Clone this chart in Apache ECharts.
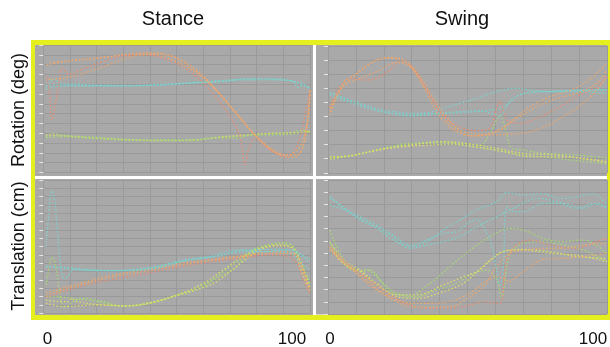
<!DOCTYPE html>
<html>
<head>
<meta charset="utf-8">
<script src="https://cdn.jsdelivr.net/npm/echarts@6/dist/echarts.min.js"></script>
<style>
html, body { margin: 0; padding: 0; background: #fff; }
#main { width: 610px; height: 347px; }
</style>
</head>
<body>
<div id="main"></div>
<script>
// column / row titles and x tick labels
var colTitles = ['Stance', 'Swing'];
var rowTitles = ['Rotation (deg)', 'Translation (cm)'];
var xTickLabels = ['0', '100', '0', '100'];

// ---- Stance / Rotation  ([% of phase, value])
var stRotOrange1 = [[1.25,10.96],[10,11.40],[20,11.64],[30,11.98],[37.5,12.08],[45,11.81],[52.5,10.96],[60,9.60],[67.5,7.56],[75,5.18],[82.5,2.97],[88.75,1.78],[93.75,1.54],[96.9,2.29],[98.75,4.67],[100,8.41]];
var stRotOrange2 = [[1,9.84],[2.25,8.41],[3.25,5.34],[4.4,6.71],[6,9.43],[7.1,10.62],[9.75,10.01],[12.5,10.28],[20,11.06],[30,11.88],[38.75,11.98],[47.5,11.40],[55,10.28],[62.5,8.41],[70,5.69],[73.75,3.65],[75.6,0.76],[77.25,2.63],[79.4,3.48],[85,2.29],[91.25,1.54],[95,2.63],[98.1,5.69],[100,8.41]];
var stRotOrange3 = [[1.9,9.50],[7.5,9.60],[15,10.11],[22.5,10.79],[30,11.54],[36.25,11.98],[42.5,12.08],[50,11.64],[57.5,10.45],[65,8.41],[72.5,6.03],[80,3.65],[86.25,2.29],[91.25,1.78],[96.25,2.63],[99.4,5.69],[100,8.41]];
var stRotOrange4 = [[2.5,11.2],[13.75,11.47],[26.25,11.88],[38.75,12.21],[47.5,11.98],[55,10.79],[62.5,9.09],[70,6.71],[77.5,4.33],[83.75,2.63],[90,1.78],[95,1.78],[98.1,3.31],[100,8.07]];
var stRotCyan1 = [[1,8.75],[2.5,9.26],[4,9.50],[5.6,9.26],[7.5,8.92],[20,8.85],[32.5,8.82],[45,8.92],[57.5,9.16],[65,9.22],[75,9.50],[82.5,9.53],[90,9.43],[93.75,9.26],[95.6,8.65],[97.5,8.92],[100,8.48]];
var stRotCyan2 = [[1,8.58],[7.5,8.82],[20,8.82],[32.5,8.85],[45,8.95],[55,9.09],[65,9.29],[75,9.43],[85,9.43],[92.5,9.36],[97.5,9.02],[100,8.48]];
var stRotCyan3 = [[1,8.92],[7.5,9.02],[20,8.92],[32.5,8.88],[45,8.99],[57.5,9.22],[70,9.43],[77.5,9.56],[90,9.50],[95,9.16],[100,8.58]];
var stRotGreen1 = [[1,3.65],[3.75,3.99],[6.25,3.82],[20,3.58],[32.5,3.37],[45,3.31],[57.5,3.37],[65,3.58],[75,3.71],[82.5,3.92],[92.5,4.05],[96.25,4.26],[100,4.05]];
var stRotYellow1 = [[1,3.82],[7.5,3.71],[20,3.48],[32.5,3.31],[45,3.24],[57.5,3.31],[67.5,3.65],[76.25,3.82],[85,3.99],[95,4.05],[100,4.16]];
var stRotGreen2 = [[1,3.54],[6.25,3.65],[20,3.44],[38.75,3.24],[55,3.24],[65,3.51],[72.5,3.48],[77.5,3.82],[85,3.82],[95,3.99],[97.5,4.33],[100,4.09]];

// ---- Swing / Rotation
var swRotOrange1 = [[0.7,4.34],[4.3,5.87],[9.1,6.82],[15.1,7.76],[21.0,8.12],[25.8,8.05],[30.6,7.29],[35.4,5.87],[40.1,4.34],[44.9,3.22],[50.9,2.61],[56.9,2.75],[61.6,2.99],[66.4,3.74],[72.4,4.69],[79.6,5.40],[87.9,5.92],[95.1,6.82],[100,7.76]];
var swRotOrange2 = [[0.7,4.69],[4.3,6.11],[7.9,6.70],[12.7,6.58],[17.4,6.70],[22.2,7.29],[25.8,7.88],[29.4,7.65],[34.2,6.35],[38.9,4.69],[43.7,3.63],[48.5,3.15],[53.3,2.99],[58.1,3.22],[61.6,5.05],[64.6,3.63],[68.8,3.51],[74.8,3.86],[82.0,4.57],[89.1,5.40],[96.3,6.11],[100,6.94]];
var swRotOrange3 = [[0.7,4.10],[5.5,6.35],[11.5,7.17],[17.4,8.00],[23.4,8.19],[28.2,7.88],[33.0,6.82],[37.8,5.28],[42.5,3.98],[47.3,3.04],[53.3,2.75],[59.3,2.68],[65.2,2.75],[71.2,2.85],[77.2,3.22],[84.3,3.98],[91.5,4.93],[96.3,5.87],[100,6.82]];
var swRotOrange4 = [[0.7,4.57],[5.5,6.11],[11.5,6.70],[17.4,7.17],[24.6,7.81],[29.4,7.53],[34.2,6.11],[38.9,4.34],[43.7,3.22],[48.5,2.75],[53.3,2.61],[58.1,2.75],[62.8,3.22],[67.6,3.86],[74.8,4.69],[82.0,5.28],[89.1,5.64],[96.3,6.35],[100,7.29]];
var swRotCyan1 = [[0.7,5.64],[5.5,5.28],[11.5,4.93],[17.4,4.57],[23.4,4.34],[29.4,4.22],[35.4,4.26],[41.3,4.57],[47.3,4.93],[53.3,5.28],[60.5,5.76],[67.6,5.99],[72.4,5.87],[79.6,5.76],[89.1,5.83],[100,5.87]];
var swRotCyan2 = [[0.7,5.52],[5.5,5.16],[11.5,4.74],[17.4,4.41],[23.4,4.17],[29.4,4.03],[35.4,4.10],[41.3,4.22],[47.3,4.26],[53.3,4.34],[58.1,4.45],[62.8,4.69],[66.4,5.28],[70.0,5.64],[77.2,5.76],[89.1,5.87],[100,5.92]];
var swRotCyan3 = [[0.7,5.68],[5.5,5.35],[11.5,4.88],[17.4,4.45],[23.4,4.22],[29.4,4.10],[35.4,4.17],[41.3,4.26],[47.3,4.34],[53.3,4.41],[59.3,4.17],[61.6,3.98],[64.0,4.69],[67.6,5.40],[72.4,5.68],[79.6,5.76],[89.1,5.76],[100,5.64]];
var swRotGreen1 = [[0.7,1.14],[6.7,1.19],[12.7,1.38],[19.8,1.74],[27.0,2.04],[34.2,2.14],[41.3,2.21],[48.5,2.09],[54.5,1.97],[58.1,2.80],[61.6,4.03],[64.0,2.80],[65.8,1.74],[70.0,1.62],[77.2,1.38],[89.1,1.26],[100,1.03]];
var swRotGreen2 = [[0.7,1.03],[6.7,1.14],[15.1,1.50],[23.4,1.85],[31.8,2.04],[41.3,2.14],[50.9,1.90],[60.5,1.62],[70.0,1.26],[79.6,1.10],[89.1,0.86],[100,0.62]];
var swRotGreen3 = [[0.7,1.14],[7.9,1.19],[17.4,1.62],[27.0,1.85],[35.4,1.95],[43.7,2.04],[53.3,1.81],[62.8,1.50],[72.4,1.14],[82.0,1.14],[91.5,1.03],[100,0.79]];
var swRotYellow1 = [[0.7,0.96],[9.1,1.26],[19.8,1.66],[29.4,1.97],[41.3,2.21],[50.9,2.04],[60.5,1.74],[70.0,1.38],[82.0,1.26],[93.9,0.91],[100,0.72]];

// ---- Stance / Translation
var stTrCyan1 = [[1,8.0],[2,11.6],[3.1,14.72],[4.1,14.0],[5.25,10.0],[6.5,5.6],[7.75,4.2],[9.4,4.48],[11.25,5.28],[15,5.2],[26.25,5.12],[38.75,5.4],[51.25,6.2],[61.25,6.72],[72.5,7.6],[82.5,7.4],[90,7.6],[93.75,7.6],[96.9,7.0],[100,6.48]];
var stTrCyan2 = [[1,5.6],[7.5,5.52],[20,5.2],[32.5,5.12],[45,5.6],[55,6.48],[65,6.88],[75,7.6],[85,7.68],[92.5,7.6],[97.5,6.72],[100,6.0]];
var stTrCyan3 = [[1,5.68],[7.5,5.4],[20,5.12],[32.5,5.2],[42.5,5.6],[52.5,6.4],[62.5,6.72],[72.5,7.28],[82.5,7.4],[92.5,7.28],[96.9,6.0],[100,5.2]];
var stTrGreen1 = [[1,3.4],[2.25,5.6],[3.25,6.72],[4.4,6.0],[5.6,3.6],[6.9,1.2],[8.5,0.8],[11.25,1.4],[15,1.8],[22.5,1.4],[30,0.88],[38.75,1.2],[48.75,2.0],[57.5,2.8],[65,4.2],[72.5,5.6],[77.5,7.4],[82.5,8.08],[88.75,8.32],[92.5,8.2],[96.25,6.4],[100,3.6]];
var stTrGreen2 = [[1,2.0],[7.5,1.92],[20,1.4],[30,0.88],[40,1.2],[50,2.2],[60,3.4],[67.5,5.0],[75,6.6],[82.5,8.0],[90,8.48],[93.75,8.0],[97.5,5.2],[100,3.4]];
var stTrYellow1 = [[1,1.2],[7.5,0.8],[20,1.0],[30,0.88],[40,1.28],[51.25,2.32],[60,3.6],[67.5,5.2],[75,6.88],[82.5,7.92],[90,8.2],[93.75,7.6],[97.5,4.4],[100,2.8]];
var stTrYellow2 = [[1,1.6],[6.25,1.4],[9.4,1.4],[10.6,1.8],[12.5,1.4],[22.5,1.0],[32.5,0.88],[42.5,1.4],[52.5,2.4],[61.25,3.2],[65,3.8],[72.5,5.6],[80,7.4],[87.5,8.08],[93.75,7.8],[97.5,5.2],[100,3.2]];
var stTrOrange1 = [[1,2.2],[13.75,3.4],[26.25,4.4],[38.75,5.08],[51.25,5.8],[63.75,6.4],[76.25,6.88],[85,7.2],[91.25,7.2],[95,6.8],[97.5,5.2],[100,2.4]];
var stTrOrange2 = [[1,2.48],[13.75,3.6],[26.25,4.6],[38.75,5.28],[51.25,6.0],[63.75,6.48],[76.25,7.0],[85,7.4],[91.25,7.4],[95,6.88],[98.1,4.4],[100,2.8]];
var stTrOrange3 = [[1,1.92],[13.75,3.2],[26.25,4.08],[38.75,4.8],[51.25,5.6],[63.75,6.2],[76.25,6.72],[85,7.0],[91.25,6.88],[95,6.0],[97.5,4.0],[100,2.32]];

// ---- Swing / Translation
var swTrCyan1 = [[0.7,9.63],[5.5,8.67],[11.5,7.72],[17.4,7.03],[23.4,6.07],[29.4,5.53],[35.4,5.94],[41.3,6.89],[47.3,7.72],[53.3,8.54],[60.5,9.22],[64.0,9.96],[70.0,9.77],[77.2,9.85],[83.2,9.49],[89.1,9.63],[95.1,9.85],[100,8.95]];
var swTrCyan2 = [[0.7,8.95],[5.5,8.59],[11.5,7.99],[17.4,7.31],[23.4,6.48],[29.4,5.66],[35.4,6.07],[41.3,6.62],[46.1,6.76],[50.9,7.58],[53.3,7.77],[56.9,6.62],[59.3,5.12],[61.6,2.38],[62.8,3.61],[64.0,8.81],[66.4,8.40],[70.0,8.40],[77.2,9.08],[84.3,9.08],[91.5,8.67],[96.3,9.08],[100,8.81]];
var swTrCyan3 = [[0.7,9.49],[5.5,8.81],[11.5,7.85],[17.4,7.17],[23.4,6.35],[29.4,5.39],[35.4,5.66],[41.3,5.94],[47.3,6.35],[53.3,7.17],[60.5,7.99],[67.6,8.81],[74.8,9.49],[82.0,9.22],[89.1,8.67],[95.1,9.08],[100,8.67]];
var swTrGreen1 = [[0.7,6.89],[3.1,5.53],[6.7,4.16],[10.3,3.61],[13.9,3.61],[17.4,3.06],[23.4,1.70],[29.4,1.56],[36.6,2.52],[43.7,3.89],[50.9,5.25],[58.1,6.35],[65.2,7.03],[70.0,6.89],[77.2,6.21],[84.3,5.94],[91.5,6.07],[100,4.98]];
var swTrGreen2 = [[0.7,5.80],[3.1,4.98],[6.7,3.89],[11.5,3.47],[15.1,3.61],[19.8,2.52],[25.8,1.56],[31.8,1.42],[38.9,1.97],[46.1,2.52],[52.1,3.34],[56.9,3.61],[60.5,2.79],[62.2,1.42],[65.2,4.98],[70.0,5.80],[77.2,5.94],[84.3,5.66],[91.5,5.25],[100,4.30]];
var swTrGreen3 = [[0.7,5.94],[5.5,4.43],[11.5,3.61],[17.4,2.52],[24.6,1.42],[31.8,1.29],[41.3,1.83],[48.5,2.52],[55.7,3.89],[62.8,5.12],[70.0,5.31],[79.6,5.12],[89.1,4.71],[100,4.57]];
var swTrYellow1 = [[0.7,5.53],[5.5,4.16],[11.5,3.47],[17.4,2.38],[24.6,1.56],[31.8,1.56],[41.3,2.38],[48.5,3.06],[53.3,3.47],[58.1,4.43],[62.8,5.12],[70.0,5.25],[79.6,4.98],[89.1,4.84],[100,4.30]];
var swTrOrange1 = [[0.7,5.53],[5.5,4.43],[11.5,3.34],[17.4,2.38],[23.4,1.42],[29.4,0.74],[35.4,0.47],[43.7,0.47],[50.9,0.74],[55.7,1.01],[60.5,0.88],[62.2,1.01],[64.0,4.43],[67.6,5.66],[72.4,6.07],[79.6,5.66],[89.1,5.39],[96.3,5.94],[100,6.21]];
var swTrOrange2 = [[0.7,5.39],[5.5,4.30],[11.5,3.06],[17.4,1.97],[23.4,1.15],[29.4,0.60],[35.4,0.55],[43.7,0.60],[50.9,1.42],[55.7,2.24],[60.5,3.89],[65.2,4.98],[71.2,5.25],[77.2,5.39],[84.3,5.39],[91.5,5.66],[100,5.80]];
var swTrOrange3 = [[0.7,5.25],[5.5,4.16],[11.5,3.20],[17.4,2.11],[23.4,1.29],[29.4,0.88],[36.6,0.88],[43.7,1.01],[50.9,1.70],[55.7,2.52],[60.5,3.06],[62.8,2.93],[65.2,2.65],[67.6,3.06],[72.4,3.89],[77.2,4.49],[84.3,4.57],[91.5,4.71],[100,4.98]];

var ORANGE = '#f3a767', SALMON = '#ef8a6f', CYAN = '#76d6d2', GREEN = '#a9dd6e', YELLOW = '#dfe066';

// panel order: stance rot, swing rot, stance trans, swing trans
var panelCurves = [
  [stRotGreen1, stRotYellow1, stRotGreen2, stRotCyan1, stRotCyan2, stRotCyan3, stRotOrange1, stRotOrange2, stRotOrange3, stRotOrange4],
  [swRotGreen1, swRotGreen2, swRotGreen3, swRotYellow1, swRotCyan1, swRotCyan2, swRotCyan3, swRotOrange1, swRotOrange2, swRotOrange3, swRotOrange4],
  [stTrGreen1, stTrGreen2, stTrYellow1, stTrYellow2, stTrOrange1, stTrOrange2, stTrOrange3, stTrCyan1, stTrCyan2, stTrCyan3],
  [swTrGreen1, swTrGreen2, swTrGreen3, swTrYellow1, swTrOrange1, swTrOrange2, swTrOrange3, swTrCyan1, swTrCyan2, swTrCyan3]
];
var panelColors = [
  [GREEN, YELLOW, GREEN, CYAN, CYAN, CYAN, ORANGE, SALMON, ORANGE, ORANGE],
  [GREEN, GREEN, YELLOW, YELLOW, CYAN, CYAN, CYAN, ORANGE, SALMON, ORANGE, ORANGE],
  [GREEN, GREEN, YELLOW, YELLOW, ORANGE, ORANGE, SALMON, CYAN, CYAN, CYAN],
  [GREEN, GREEN, YELLOW, YELLOW, SALMON, ORANGE, ORANGE, CYAN, CYAN, CYAN]
];
var yMax = [13, 9, 16, 11];

var grids = [
  {left: 43.3, top: 45, width: 266.7, height: 127.4},
  {left: 328, top: 45.9, width: 279, height: 126.9},
  {left: 43.3, top: 180, width: 266.7, height: 133.3},
  {left: 328, top: 180, width: 279, height: 134}
];

var xAxes = [], yAxes = [], series = [];
for (var p = 0; p < 4; p++) {
  xAxes.push({
    type: 'value', gridIndex: p, min: 0, max: 100, interval: 10,
    axisLine: {show: false}, axisTick: {show: false}, axisLabel: {show: false},
    splitLine: {lineStyle: {color: '#9a9a9a', width: 1}}
  });
  yAxes.push({
    type: 'value', gridIndex: p, min: 0, max: yMax[p], interval: 1,
    axisLine: {show: false},
    axisTick: {show: true, length: 4, lineStyle: {color: '#e6e6e6', width: 1}},
    axisLabel: {show: false},
    splitLine: {lineStyle: {color: '#9a9a9a', width: 1}}
  });
  for (var c = 0; c < panelCurves[p].length; c++) {
    series.push({
      type: 'line', xAxisIndex: p, yAxisIndex: p,
      data: panelCurves[p][c],
      smooth: 0.35, symbol: 'none', clip: false, silent: true,
      lineStyle: {color: panelColors[p][c], width: 1.2, type: [1.6, 2], opacity: 0.95}
    });
  }
}

var font = '"Liberation Sans", Arial, sans-serif';
function label(txt, x, y, size, rot) {
  return {
    type: 'text', x: x, y: y, rotation: rot || 0, z: 10,
    style: {text: txt, x: 0, y: 0, fill: '#111', font: size + 'px ' + font,
            textAlign: 'center', textVerticalAlign: 'middle'}
  };
}

var graphics = [
  {type: 'rect', z: -30, shape: {x: 31, y: 40, width: 579, height: 280}, style: {fill: '#e5ef1d'}},
  {type: 'rect', z: -29, shape: {x: 35, y: 45, width: 572, height: 270}, style: {fill: '#ffffff'}},
  {type: 'rect', z: -28, shape: {x: 35, y: 45, width: 278, height: 131}, style: {fill: '#a9a9a9'}},
  {type: 'rect', z: -28, shape: {x: 316, y: 45, width: 291, height: 131}, style: {fill: '#a9a9a9'}},
  {type: 'rect', z: -28, shape: {x: 35, y: 179, width: 278, height: 136}, style: {fill: '#a9a9a9'}},
  {type: 'rect', z: -28, shape: {x: 316, y: 179, width: 291, height: 135.5}, style: {fill: '#a9a9a9'}},
  label(colTitles[0], 173, 19, 20),
  label(colTitles[1], 462, 19, 20),
  label(rowTitles[0], 19, 110, 18, Math.PI / 2),
  label(rowTitles[1], 19, 246, 18, Math.PI / 2),
  label(xTickLabels[0], 47.5, 339, 17),
  label(xTickLabels[1], 292, 339, 17),
  label(xTickLabels[2], 330, 339, 17),
  label(xTickLabels[3], 593, 339, 17)
];

var myChart = echarts.init(document.getElementById('main'), null, {renderer: 'canvas'});
myChart.setOption({
  animation: false,
  grid: grids,
  xAxis: xAxes,
  yAxis: yAxes,
  graphic: {elements: graphics},
  series: series
});
</script>
</body>
</html>
